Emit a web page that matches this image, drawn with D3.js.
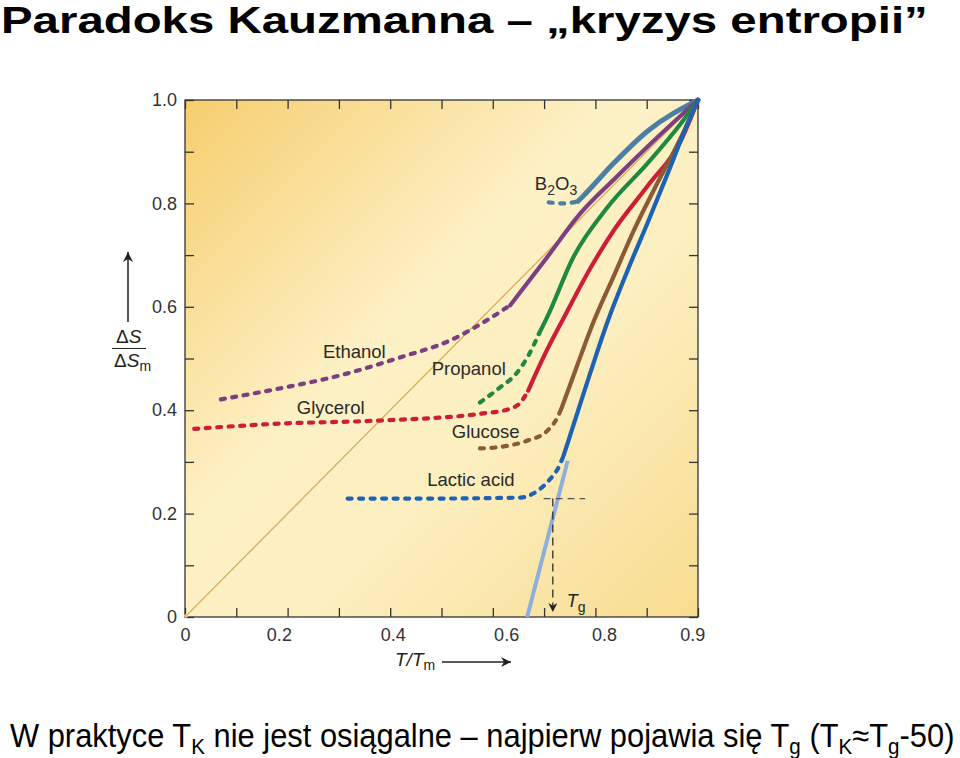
<!DOCTYPE html>
<html><head><meta charset="utf-8">
<script src="https://cdn.jsdelivr.net/npm/d3@7"></script>
<style>
html,body{margin:0;padding:0;background:#fff;}
svg{display:block;font-family:"Liberation Sans",Arial,Helvetica,sans-serif;}
</style></head>
<body>
<svg id="c" width="960" height="758"></svg>
<script>
// ---------- data ----------
const xTickMarks = [0,0.1,0.2,0.3,0.4,0.5,0.6,0.7,0.8,0.9,1.0];
const xLabelVals = [0,0.183,0.405,0.626,0.817,0.989];
const xLabels = ["0","0.2","0.4","0.6","0.8","0.9"];
const yTickMarks = [0,0.1,0.2,0.3,0.4,0.5,0.6,0.7,0.8,0.9,1.0];
const yLabelVals = [0,0.2,0.4,0.6,0.8,1.0];
const yLabels = ["0","0.2","0.4","0.6","0.8","1.0"];

const seriesNames = ["B2O3","Ethanol","Propanol","Glycerol","Glucose","Lactic acid"];
const seriesColors = ["#4a7fa6","#7d3f80","#1f8a3f","#cc1f35","#8b5a36","#1d62b5"];

const b2o3Dashed = [[0.709,0.802],[0.740,0.800],[0.766,0.804]];
const b2o3Solid = [[0.766,0.804],[0.776,0.814],[0.836,0.878],[0.902,0.940],[1,1]];
const ethanolDashed = [[0.070,0.421],[0.184,0.442],[0.301,0.467],[0.419,0.502],[0.517,0.535],[0.595,0.578],[0.634,0.603]];
const ethanolSolid = [[0.634,0.603],[0.703,0.692],[0.771,0.781],[0.840,0.850],[0.902,0.910],[1,1]];
const propanolDashed = [[0.575,0.415],[0.614,0.444],[0.645,0.470],[0.669,0.505],[0.690,0.548]];
const propanolSolid = [[0.690,0.548],[0.706,0.580],[0.757,0.696],[0.824,0.793],[0.902,0.878],[0.967,0.955],[1,1]];
const glycerolDashed = [[0.018,0.364],[0.184,0.374],[0.380,0.380],[0.575,0.393],[0.634,0.403],[0.654,0.415],[0.669,0.438]];
const glycerolSolid = [[0.669,0.438],[0.700,0.505],[0.738,0.578],[0.791,0.676],[0.836,0.748],[0.902,0.834],[0.967,0.922],[1,1]];
const glucoseDashed = [[0.575,0.326],[0.628,0.331],[0.667,0.341],[0.706,0.360],[0.726,0.386],[0.734,0.404]];
const glucoseSolid = [[0.734,0.404],[0.765,0.488],[0.796,0.570],[0.836,0.660],[0.875,0.748],[0.914,0.826],[0.967,0.928],[1,1]];
const lacticDashed = [[0.317,0.229],[0.458,0.229],[0.654,0.231],[0.687,0.244],[0.712,0.267],[0.728,0.289],[0.738,0.312]];
const lacticSolid = [[0.738,0.312],[0.760,0.380],[0.790,0.472],[0.824,0.572],[0.863,0.671],[0.902,0.763],[0.941,0.858],[0.980,0.955],[1,1]];
const extrapolation = [[0.746,0.302],[0.667,0]];
const diagonal = [[0,0],[1,1]];
const tgPoint = [0.717,0.229];
const tgHoriz = [[0.699,0.229],[0.780,0.229]];

// label anchors (data coords: left x, baseline y)
const labelAnchors = [[0.682,0.826],[0.269,0.501],[0.481,0.468],[0.218,0.393],[0.520,0.346],[0.472,0.253]];

// ---------- chart ----------
const svg = d3.select("#c");
const x = d3.scaleLinear().domain([0,1]).range([185,698]);
const y = d3.scaleLinear().domain([0,1]).range([617,100]);

const defs = svg.append("defs");
const g1 = defs.append("linearGradient").attr("id","bg").attr("x1",0).attr("y1",0).attr("x2",1).attr("y2",1);
g1.append("stop").attr("offset","0").attr("stop-color","#f6ce6e");
g1.append("stop").attr("offset","0.42").attr("stop-color","#fdf1c6");
g1.append("stop").attr("offset","0.62").attr("stop-color","#fcefc0");
g1.append("stop").attr("offset","1").attr("stop-color","#f8dc8f");
const mk = defs.append("marker").attr("id","ah").attr("viewBox","0 0 10 10").attr("refX",10).attr("refY",5)
  .attr("markerWidth",10).attr("markerHeight",10).attr("markerUnits","userSpaceOnUse").attr("orient","auto");
mk.append("path").attr("d","M0,0 L10,5 L0,10 L3,5 Z").attr("fill","#222");
const mk2 = defs.append("marker").attr("id","ah2").attr("viewBox","0 0 10 10").attr("refX",10).attr("refY",5)
  .attr("markerWidth",9).attr("markerHeight",9).attr("markerUnits","userSpaceOnUse").attr("orient","auto");
mk2.append("path").attr("d","M0,0 L10,5 L0,10 L3,5 Z").attr("fill","#222");

svg.append("rect").attr("x",x(0)).attr("y",y(1)).attr("width",x(1)-x(0)).attr("height",y(0)-y(1))
  .attr("fill","url(#bg)");

// tick marks (inward) on all four sides
function styleAxis(g){ g.select(".domain").remove(); g.selectAll("line").attr("stroke","#333").attr("stroke-width",1.3); }
svg.append("g").attr("transform",`translate(0,${y(0)})`).call(d3.axisBottom(x).tickValues(xTickMarks).tickSize(-9).tickFormat("")).call(styleAxis);
svg.append("g").attr("transform",`translate(0,${y(1)})`).call(d3.axisTop(x).tickValues(xTickMarks).tickSize(-9).tickFormat("")).call(styleAxis);
svg.append("g").attr("transform",`translate(${x(0)},0)`).call(d3.axisLeft(y).tickValues(yTickMarks).tickSize(-9).tickFormat("")).call(styleAxis);
svg.append("g").attr("transform",`translate(${x(1)},0)`).call(d3.axisRight(y).tickValues(yTickMarks).tickSize(-9).tickFormat("")).call(styleAxis);

// tick labels
const xl = svg.append("g").attr("transform",`translate(0,${y(0)})`)
  .call(d3.axisBottom(x).tickValues(xLabelVals).tickSize(0).tickPadding(11).tickFormat((d,i)=>xLabels[i]));
xl.select(".domain").remove();
xl.selectAll("text").attr("font-size",18).attr("fill","#333").attr("font-family","Liberation Sans, Arial, sans-serif");
const yl = svg.append("g").attr("transform",`translate(${x(0)},0)`)
  .call(d3.axisLeft(y).tickValues(yLabelVals).tickSize(0).tickPadding(8).tickFormat((d,i)=>yLabels[i]));
yl.select(".domain").remove();
yl.selectAll("text").attr("font-size",18).attr("fill","#333").attr("font-family","Liberation Sans, Arial, sans-serif");

// frame
svg.append("rect").attr("x",x(0)).attr("y",y(1)).attr("width",x(1)-x(0)).attr("height",y(0)-y(1))
  .attr("fill","none").attr("stroke","#333").attr("stroke-width",1.3);

const line = d3.line().x(d=>x(d[0])).y(d=>y(d[1])).curve(d3.curveMonotoneX);
const straight = d3.line().x(d=>x(d[0])).y(d=>y(d[1]));

// diagonal
svg.append("path").attr("d",straight(diagonal)).attr("stroke","#fff6dc").attr("stroke-width",3.2).attr("fill","none").attr("opacity",0.8);
svg.append("path").attr("d",straight(diagonal)).attr("stroke","#e2b358").attr("stroke-width",1.6).attr("fill","none");

// extrapolation line
svg.append("path").attr("d",straight(extrapolation)).attr("stroke","#8eaedc").attr("stroke-width",4).attr("fill","none");

// Tg guide lines
svg.append("path").attr("d",straight(tgHoriz)).attr("stroke","#555").attr("stroke-width",1.2).attr("stroke-dasharray","7,5").attr("fill","none");
svg.append("line").attr("x1",x(tgPoint[0])).attr("y1",y(tgPoint[1])).attr("x2",x(tgPoint[0])).attr("y2",y(0)-5)
  .attr("stroke","#222").attr("stroke-width",1.2).attr("stroke-dasharray","8,5").attr("marker-end","url(#ah2)");

const dashedSets = [b2o3Dashed,ethanolDashed,propanolDashed,glycerolDashed,glucoseDashed,lacticDashed];
const solidSets = [b2o3Solid,ethanolSolid,propanolSolid,glycerolSolid,glucoseSolid,lacticSolid];
dashedSets.forEach((d,i)=>{
  svg.append("path").attr("d",line(d)).attr("fill","none").attr("stroke",seriesColors[i])
    .attr("stroke-width",4.2).attr("stroke-linecap","round").attr("stroke-dasharray","4,7.5");
});
solidSets.forEach((d,i)=>{
  svg.append("path").attr("d",line(d)).attr("fill","none").attr("stroke",seriesColors[i])
    .attr("stroke-width",i===0?5:4.2).attr("stroke-linecap","round");
});

// series labels
seriesNames.forEach((n,i)=>{
  const t = svg.append("text").attr("x",x(labelAnchors[i][0])).attr("y",y(labelAnchors[i][1]))
    .attr("font-size",18.5).attr("fill","#2a2a2a");
  if(n==="B2O3"){
    t.append("tspan").text("B");
    t.append("tspan").attr("font-size",14).attr("dy",5).text("2");
    t.append("tspan").attr("dy",-5).text("O");
    t.append("tspan").attr("font-size",14).attr("dy",5).text("3");
  } else t.text(n);
});

// Tg label
const tg = svg.append("text").attr("x",x(tgPoint[0])+14).attr("y",y(0)-10).attr("font-size",18).attr("fill","#222");
tg.append("tspan").attr("font-style","italic").text("T");
tg.append("tspan").attr("font-size",14).attr("dy",5).text("g");

// x axis title
const xt = svg.append("text").attr("x",395).attr("y",666).attr("font-size",19).attr("fill","#222");
xt.append("tspan").attr("font-style","italic").text("T/T");
xt.append("tspan").attr("font-size",14).attr("dy",4).text("m");
svg.append("line").attr("x1",442).attr("y1",662).attr("x2",511).attr("y2",662).attr("stroke","#222").attr("stroke-width",1.5).attr("marker-end","url(#ah)");

// y axis title
svg.append("line").attr("x1",128).attr("y1",322).attr("x2",128).attr("y2",252).attr("stroke","#222").attr("stroke-width",1.5).attr("marker-end","url(#ah)");
const yt1 = svg.append("text").attr("x",116).attr("y",343).attr("font-size",19).attr("fill","#222");
yt1.append("tspan").text("Δ"); yt1.append("tspan").attr("font-style","italic").text("S");
svg.append("line").attr("x1",112).attr("x2",146).attr("y1",348.5).attr("y2",348.5).attr("stroke","#222").attr("stroke-width",1.2);
const yt2 = svg.append("text").attr("x",114).attr("y",367).attr("font-size",19).attr("fill","#222");
yt2.append("tspan").text("Δ"); yt2.append("tspan").attr("font-style","italic").text("S");
yt2.append("tspan").attr("font-size",14).attr("dy",4).text("m");

// title
function fitText(sel, x0, targetW){
  const bb = sel.node().getBBox();
  sel.attr("transform",`translate(${x0},0) scale(${targetW/bb.width},1) translate(${-bb.x},0)`);
}
const title = svg.append("text").attr("x",0).attr("y",33).attr("font-size",37).attr("font-weight","bold")
  .attr("fill","#000").text("Paradoks Kauzmanna – „kryzys entropii”");
fitText(title, 1, 927);

// bottom note
const note = svg.append("text").attr("x",0).attr("y",747).attr("font-size",33).attr("fill","#000");
note.append("tspan").text("W praktyce T");
note.append("tspan").attr("font-size",22).attr("dy",7).text("K");
note.append("tspan").attr("dy",-7).text(" nie jest osiągalne – najpierw pojawia się T");
note.append("tspan").attr("font-size",22).attr("dy",7).text("g");
note.append("tspan").attr("dy",-7).text(" (T");
note.append("tspan").attr("font-size",22).attr("dy",7).text("K");
note.append("tspan").attr("dy",-7).text("≈T");
note.append("tspan").attr("font-size",22).attr("dy",7).text("g");
note.append("tspan").attr("dy",-7).text("-50)");
fitText(note, 10, 945);
</script>
</body></html>
